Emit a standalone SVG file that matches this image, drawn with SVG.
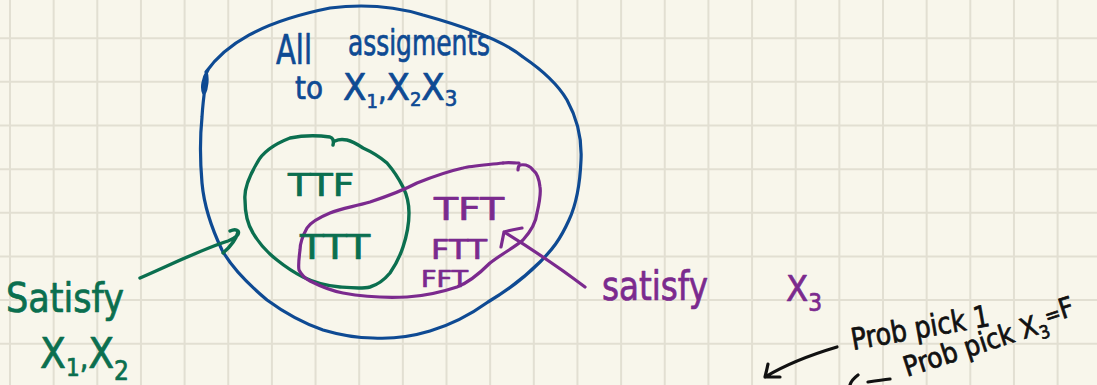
<svg xmlns="http://www.w3.org/2000/svg" width="1097" height="385" viewBox="0 0 1097 385">
  <style>
    .grid { stroke: #e2dfd2; stroke-width: 2; fill: none; }
    .ink { fill: none; stroke-linecap: round; stroke-linejoin: round; }
    .blue { stroke: #0e4a93; stroke-width: 3.2; }
    .green { stroke: #0b6f4f; stroke-width: 3.4; }
    .purple { stroke: #7b2a8e; stroke-width: 3.2; }
    .black { stroke: #111111; stroke-width: 3.2; }
    text { font-family: "DejaVu Sans", "Liberation Sans", sans-serif; font-stretch: condensed; stroke-width: 0.7; stroke-linejoin: round; }
    .tb { fill: #0e4a93; stroke: #0e4a93; }
    .tg { fill: #0b6f4f; stroke: #0b6f4f; }
    .tp { fill: #7b2a8e; stroke: #7b2a8e; }
    .tk { fill: #111111; stroke: #111111; }
  </style>

  <!-- paper -->
  <rect width="1097" height="385" fill="#f8f6eb"/>
  <path class="grid" d="M10,0V385 M53.65,0V385 M97.3,0V385 M140.95,0V385 M184.6,0V385 M228.25,0V385 M271.9,0V385 M315.55,0V385 M359.2,0V385 M402.85,0V385 M446.5,0V385 M490.15,0V385 M533.8,0V385 M577.45,0V385 M621.1,0V385 M664.75,0V385 M708.4,0V385 M752.05,0V385 M795.7,0V385 M839.35,0V385 M883,0V385 M926.65,0V385 M970.3,0V385 M1013.95,0V385 M1057.6,0V385
    M0,38.2H1097 M0,81.85H1097 M0,125.5H1097 M0,169.15H1097 M0,212.8H1097 M0,256.45H1097 M0,300.1H1097 M0,343.75H1097"/>

  <!-- universe: all assignments -->
  <g id="all-assignments">
    <path class="ink blue" d="M208,70 C203,78 201,88 204,94 C207,88 208,78 206,72 C225,45 260,22 330,8 C370,3 400,8 423,15 C470,28 505,42 523,57 C545,72 560,88 567,100 C578,120 582,140 581,160 C580,185 576,205 569,220 C560,240 552,250 540,262 C520,282 505,292 488,302 C470,315 450,325 430,331 C410,337 390,339 373,338 C355,338 340,335 323,330 C300,322 282,311 267,300 C248,284 232,268 222,250 C210,225 204,205 202,183 C200,160 200,137 202,117 C203,100 205,88 206,80"/>
    <text class="tb" x="276" y="64" font-size="40" textLength="36" lengthAdjust="spacingAndGlyphs">All</text>
    <text class="tb" x="348" y="55" font-size="35" textLength="142" lengthAdjust="spacingAndGlyphs">assigments</text>
    <text class="tb" x="295" y="99" font-size="32" textLength="28" lengthAdjust="spacingAndGlyphs">to</text>
    <text class="tb" x="343" y="100" font-size="38">X<tspan font-size="20" dy="8">1</tspan><tspan font-size="30" dy="-8">,</tspan>X<tspan font-size="20" dy="6">2</tspan><tspan dy="-6">X</tspan><tspan font-size="22" dy="6">3</tspan></text>
  </g>

  <!-- set satisfying x1, x2 -->
  <g id="satisfy-x1-x2">
    <path class="ink green" d="M333,145 C334,141 333,138 330,137 C315,135 300,136 290,138 C272,145 262,153 257,163 C248,178 244,190 245,200 C245,215 248,225 253,233 C260,245 268,253 277,260 C287,268 295,273 303,277 C315,283 328,286 340,287 C352,288 362,289 370,287 C380,284 385,279 390,273 C397,263 400,256 403,247 C407,235 409,224 409,213 C409,203 407,195 403,187 C398,177 393,170 387,163 C380,157 372,152 363,148 C357,144 352,141 347,140 C342,139 339,139 335,141"/>
    <text class="tg" x="288" y="196" font-size="32" textLength="66" lengthAdjust="spacingAndGlyphs">TTF</text>
  </g>

  <!-- set satisfying x3 -->
  <g id="satisfy-x3">
    <path class="ink purple" d="M503,163 C485,165 470,166 463,168 C445,172 432,177 417,183 C400,192 385,197 370,202 C352,207 340,209 330,213 C318,218 310,223 307,228 C302,237 300,244 300,250 C299,258 298,265 299,270 C302,276 306,279 310,281 C322,287 332,291 343,293 C365,297 387,298 407,297 C425,296 442,292 457,287 C470,282 480,273 490,263 C503,253 515,247 523,240 C532,230 536,222 537,213 C540,200 541,193 540,187 C539,178 537,173 533,170 C530,166 526,164 520,165 C518,166 518,168 518,170"/>
    <path class="ink purple" d="M503,163 C508,162 514,163 519,163"/>
    <text class="tg" x="300" y="259" font-size="34" textLength="70" lengthAdjust="spacingAndGlyphs">TTT</text>
    <text class="tp" x="434" y="220" font-size="32" textLength="70" lengthAdjust="spacingAndGlyphs">TFT</text>
    <text class="tp" x="431" y="259" font-size="27" textLength="56" lengthAdjust="spacingAndGlyphs">FTT</text>
    <text class="tp" x="421" y="287" font-size="23" textLength="47" lengthAdjust="spacingAndGlyphs">FFT</text>
  </g>

  <!-- pointers from labels to sets -->
  <g id="connectors">
    <path class="ink green" d="M140,278 C170,265 200,250 228,241 C236,238 240,234 238,231 C236,229 232,230 230,231 M238,232 C236,240 230,247 223,253"/>
    <path class="ink purple" d="M585,287 C560,268 530,248 504,232 M504,232 C510,230 516,229 522,228 M504,232 C503,237 502,242 501,247"/>
    <path class="ink black" d="M837,347 C810,355 785,365 765,377 M765,377 C766,373 767,369 768,364 M765,377 C770,377 775,377 780,377"/>
    <path class="ink black" d="M858,375 C854,378 851,381 850,385 M868,382 C875,381 882,380 890,379"/>
  </g>

  <!-- side labels -->
  <g id="label-satisfy-x1-x2">
    <text class="tg" x="6" y="312" font-size="40" textLength="118" lengthAdjust="spacingAndGlyphs">Satisfy</text>
    <text class="tg" x="40" y="368" font-size="42">X<tspan font-size="24" dy="8">1</tspan><tspan dy="-8" font-size="30">,</tspan>X<tspan font-size="26" dy="12">2</tspan></text>
  </g>
  <g id="label-satisfy-x3">
    <text class="tp" x="602" y="300" font-size="40" textLength="106" lengthAdjust="spacingAndGlyphs">satisfy</text>
    <text class="tp" x="786" y="301" font-size="36">X<tspan font-size="24" dy="10">3</tspan></text>
  </g>
  <g id="label-prob">
    <text class="tk" transform="translate(853,350) rotate(-10)" font-size="30" textLength="140" lengthAdjust="spacingAndGlyphs">Prob pick 1</text>
    <text class="tk" transform="translate(907,377) rotate(-18)" font-size="28" textLength="180" lengthAdjust="spacingAndGlyphs">Prob pick X<tspan font-size="18" dy="6">3</tspan><tspan dy="-13" font-size="21">=</tspan><tspan dy="0">F</tspan></text>
  </g>
</svg>
